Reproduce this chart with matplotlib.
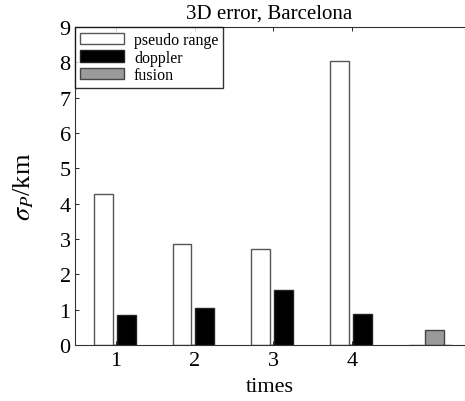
import numpy as np
import matplotlib
matplotlib.use("Agg")
import matplotlib.pyplot as plt

# values
groups = [1, 2, 3, 4, 5]
pseudo_range = [4.27, 2.85, 2.72, 8.05, 0.0]
doppler = [0.85, 1.05, 1.55, 0.88, 0.0]
fusion = [0.03, 0.03, 0.03, 0.03, 0.42]
xtick_labels = ["1", "2", "3", "4"]

plt.rcParams['font.family'] = ['Liberation Serif', 'DejaVu Serif']
plt.rcParams['mathtext.fontset'] = 'stix'

fig = plt.figure(figsize=(4.65, 4.02), dpi=100)
ax = fig.add_axes([0.161, 0.139, 0.837, 0.791])

x = np.array(groups, dtype=float)
w = 0.24
ax.bar(x - 0.16, pseudo_range, w, color='white', edgecolor='#555555',
       linewidth=1.0, label='pseudo range', zorder=2)
ax.bar(x - 0.02, fusion, 0.03, color='#999999', edgecolor='#999999',
       linewidth=0.5, zorder=1)
ax.bar(x + 0.13, doppler, w, color='black', edgecolor='#222222',
       linewidth=1.0, label='doppler', zorder=2)
# fusion only shows up in the last group
fus = ax.bar(x[-1:] + 0.05, fusion[-1:], w, color='#9a9a9a', edgecolor='#444444',
             linewidth=1.0, label='fusion', zorder=2)

ax.set_xlim(0.48, 5.42)
ax.set_ylim(0, 9)
ax.set_xticks(groups[:4])
ax.set_xticklabels(xtick_labels)
ax.set_yticks(range(10))
ax.tick_params(direction='in', length=3, labelsize=16, top=True, right=False,
               width=0.6)
ax.tick_params(axis='x', pad=4)
ax.tick_params(axis='y', pad=3)
ax.spines['right'].set_visible(False)
for s in ['left', 'top', 'bottom']:
    ax.spines[s].set_linewidth(0.8)
    ax.spines[s].set_color('#333333')

ax.set_title('3D error, Barcelona', fontsize=15, pad=7)
ax.set_xlabel('times', fontsize=16, labelpad=5)
ax.set_ylabel(r'$\sigma_P$/km', fontsize=19, labelpad=17)

leg = ax.legend(loc='upper left', fontsize=11.5, frameon=True, fancybox=False,
                borderaxespad=0.0, handlelength=2.8, handleheight=0.75,
                handletextpad=0.6, borderpad=0.3, labelspacing=0.1)
leg.get_frame().set_edgecolor('black')
leg.get_frame().set_linewidth(1.0)

fig.savefig('out.png', dpi=100)
